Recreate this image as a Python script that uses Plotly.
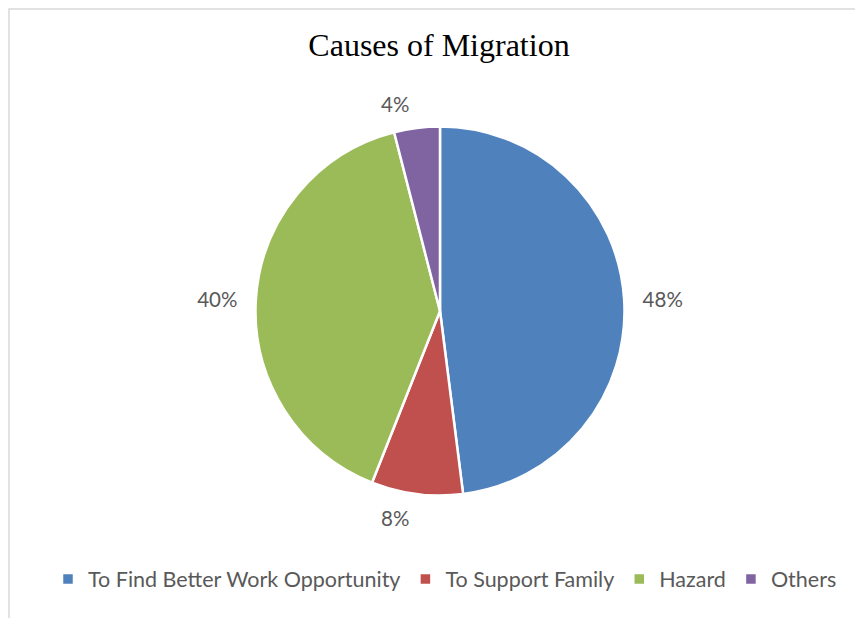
import plotly.graph_objects as go

categories = ["To Find Better Work Opportunity", "To Support Family", "Hazard", "Others"]
values = [48, 8, 40, 4]
colors = ["#4F81BD", "#C0504D", "#9BBB59", "#8064A2"]

W, H = 863, 618
# page body adds an 8px offset; targets below are in figure pixels
CX, CY, R = 432, 303, 184.5
RL = 197  # radius of the (invisible) label ring


def dom(cx, cy, r):
    return dict(x=[(cx - r) / W, (cx + r) / W], y=[(H - cy - r) / H, (H - cy + r) / H])


fig = go.Figure()
fig.add_trace(go.Pie(
    labels=categories, values=values, sort=False, direction="clockwise", rotation=0,
    marker=dict(colors=colors, line=dict(color="white", width=2.5)),
    textinfo="none", hoverinfo="label+percent",
    domain=dom(CX, CY, R),
))
fig.add_trace(go.Pie(
    labels=categories, values=values, sort=False, direction="clockwise", rotation=0,
    marker=dict(colors=["rgba(0,0,0,0)"] * len(values), line=dict(width=0)),
    texttemplate="%{percent:.0%}", textposition="outside",
    textfont=dict(family="Lato, Open Sans, sans-serif", size=20.5, color="#595959"),
    hoverinfo="skip", showlegend=False,
    domain=dom(CX, CY, RL),
))

fig.update_layout(
    width=W, height=H,
    margin=dict(l=0, r=0, t=0, b=0),
    paper_bgcolor="white",
    plot_bgcolor="white",
    title=dict(text="Causes of Migration", x=431 / W, xanchor="center", y=1 - 37 / H, yanchor="middle",
               font=dict(family="Liberation Serif, Times New Roman, serif", size=32, color="black")),
    showlegend=True,
    legend=dict(orientation="h", x=437 / W, xanchor="center", y=1 - 571 / H, yanchor="middle",
                font=dict(family="Lato, Open Sans, sans-serif", size=21.5, color="#595959"),
                traceorder="normal"),
    shapes=[dict(type="rect", xref="paper", yref="paper",
                 x0=1 / W, x1=1.01, y0=-0.01, y1=1 - 1 / H,
                 line=dict(color="#D9D9D9", width=1.5))],
)

fig.write_html("out.html")
